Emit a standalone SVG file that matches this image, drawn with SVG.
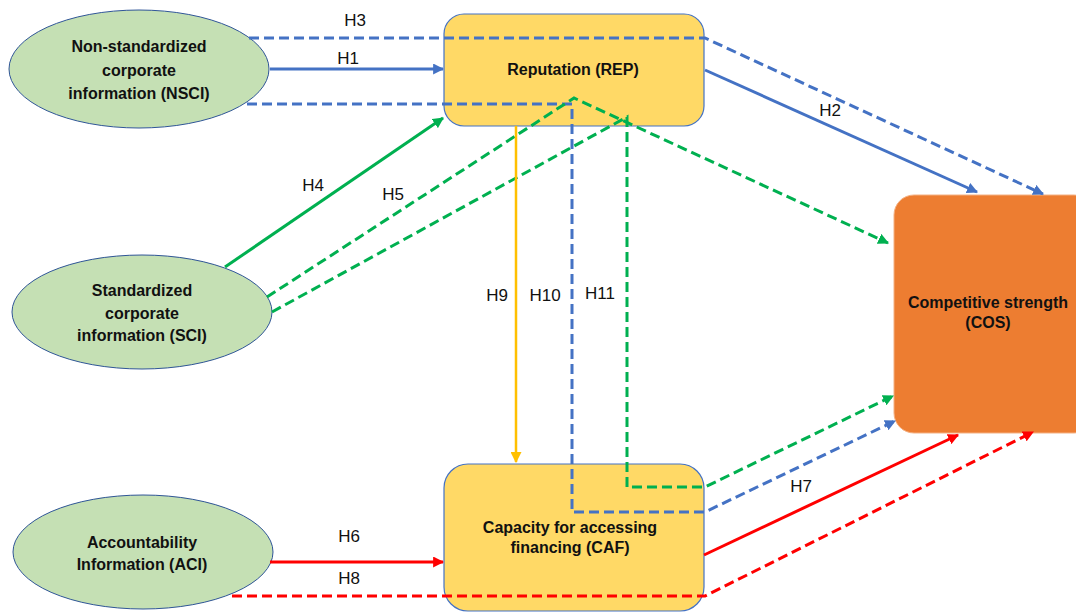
<svg xmlns="http://www.w3.org/2000/svg" width="1076" height="612" viewBox="0 0 1076 612">
<style>
.ell{fill:#C5E0B4;stroke:#2F5597;stroke-width:1}
.box{fill:#FFD966;stroke:#4472C4;stroke-width:1.2}
.cos{fill:#ED7D31;stroke:#F4B183;stroke-width:1}
.nt{font-family:"Liberation Sans",Arial,sans-serif;font-weight:bold;font-size:16px;fill:#111;text-anchor:middle}
.lb{font-family:"Liberation Sans",Arial,sans-serif;font-size:17px;fill:#111;text-anchor:middle}
.c{fill:none;stroke-width:3}
.d{stroke-dasharray:10 5}
.bl{stroke:#4472C4}
.gr{stroke:#00B050}
.rd{stroke:#FF0000}
.or{stroke:#FFC000;stroke-width:2.5}
</style>
<defs>
<marker id="ab" viewBox="0 0 10 10" refX="9" refY="5" markerWidth="11" markerHeight="11" markerUnits="userSpaceOnUse" orient="auto"><path d="M0,0 L10,5 L0,10 z" fill="#4472C4"/></marker>
<marker id="ag" viewBox="0 0 10 10" refX="9" refY="5" markerWidth="11" markerHeight="11" markerUnits="userSpaceOnUse" orient="auto"><path d="M0,0 L10,5 L0,10 z" fill="#00B050"/></marker>
<marker id="ar" viewBox="0 0 10 10" refX="9" refY="5" markerWidth="11" markerHeight="11" markerUnits="userSpaceOnUse" orient="auto"><path d="M0,0 L10,5 L0,10 z" fill="#FF0000"/></marker>
<marker id="ao" viewBox="0 0 10 10" refX="9" refY="5" markerWidth="11" markerHeight="11" markerUnits="userSpaceOnUse" orient="auto"><path d="M0,0 L10,5 L0,10 z" fill="#FFC000"/></marker>
</defs>

<g id="NSCI">
<ellipse class="ell" cx="139" cy="69" rx="130" ry="59"/>
<text class="nt" x="139" y="52">Non-standardized</text>
<text class="nt" x="139" y="76">corporate</text>
<text class="nt" x="139" y="99">information (NSCI)</text>
</g>
<g id="SCI">
<ellipse class="ell" cx="142" cy="312" rx="130" ry="57"/>
<text class="nt" x="142" y="296">Standardized</text>
<text class="nt" x="142" y="319">corporate</text>
<text class="nt" x="142" y="341">information (SCI)</text>
</g>
<g id="ACI">
<ellipse class="ell" cx="143" cy="552" rx="130" ry="57"/>
<text class="nt" x="142" y="548">Accountability</text>
<text class="nt" x="142" y="570">Information (ACI)</text>
</g>
<g id="REP">
<rect class="box" x="444" y="14" width="260" height="112" rx="20"/>
<text class="nt" x="573" y="75">Reputation (REP)</text>
</g>
<g id="CAF">
<rect class="box" x="444" y="464" width="260" height="147" rx="24"/>
<text class="nt" x="570" y="533">Capacity for accessing</text>
<text class="nt" x="570" y="553">financing (CAF)</text>
</g>
<g id="COS">
<rect class="cos" x="894" y="195" width="200" height="238" rx="20"/>
<text class="nt" x="988" y="308">Competitive strength</text>
<text class="nt" x="988" y="328">(COS)</text>
</g>

<g id="connectors">
<path class="c bl" d="M270,69 L443,69" marker-end="url(#ab)"/>
<path class="c bl d" d="M249,38 L705,38 L1043,194" marker-end="url(#ab)"/>
<path class="c bl d" d="M247,104 L572,104 L572,512 L705,512 L895,421" marker-end="url(#ab)"/>
<path class="c bl" d="M705,70 L977,192" marker-end="url(#ab)"/>
<path class="c gr" d="M225,267 L443,118" marker-end="url(#ag)"/>
<path class="c gr d" d="M267,297 L574,98 L888,243" marker-end="url(#ag)"/>
<path class="c gr d" d="M272,312 L627,117 L627,487 L705,487 L893,396" marker-end="url(#ag)"/>
<path class="c or" d="M516,126 L516,462" marker-end="url(#ao)"/>
<path class="c rd" d="M270,562 L443,562" marker-end="url(#ar)"/>
<path class="c rd" d="M704,555 L958,435" marker-end="url(#ar)"/>
<path class="c rd d" d="M232,596 L705,596 L1033,432" marker-end="url(#ar)"/>
</g>

<g id="labels">
<text class="lb" x="355" y="26">H3</text>
<text class="lb" x="348" y="64">H1</text>
<text class="lb" x="830" y="116">H2</text>
<text class="lb" x="313" y="191">H4</text>
<text class="lb" x="393" y="200">H5</text>
<text class="lb" x="497" y="301">H9</text>
<text class="lb" x="545" y="301">H10</text>
<text class="lb" x="600" y="299">H11</text>
<text class="lb" x="349" y="542">H6</text>
<text class="lb" x="349" y="584">H8</text>
<text class="lb" x="801" y="492">H7</text>
</g>
</svg>
